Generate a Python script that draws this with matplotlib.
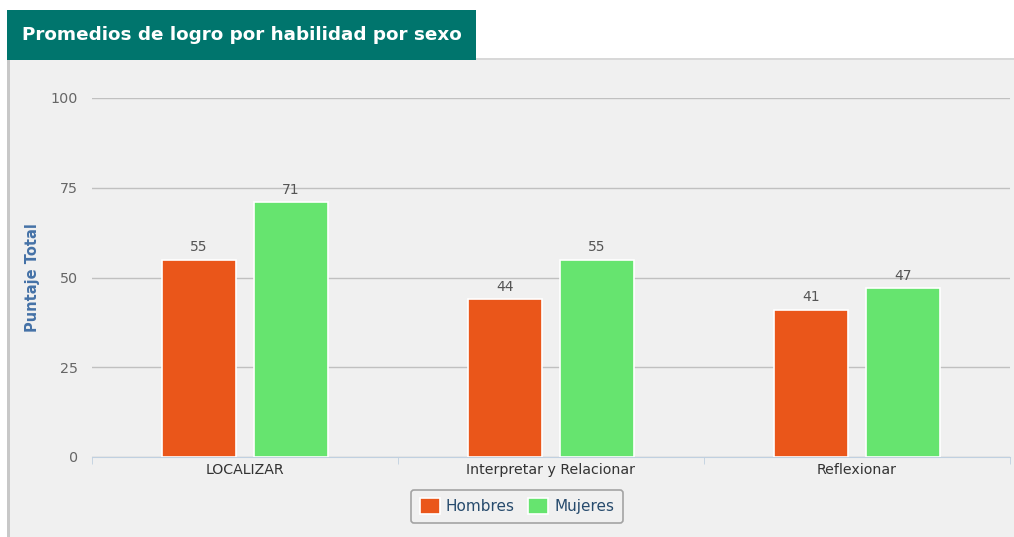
import matplotlib.pyplot as plt
from matplotlib.patches import Rectangle

categorias = ['LOCALIZAR', 'Interpretar y Relacionar', 'Reflexionar']
hombres = [55, 44, 41]
mujeres = [71, 55, 47]
yticks = [0, 25, 50, 75, 100]

fig = plt.figure(figsize=(10.14, 5.37), dpi=100)
W, H = 1014, 537

# panel gris de fondo
fig.patches.append(Rectangle((7 / W, 0), 1 - 7 / W, (537 - 59) / H,
                             transform=fig.transFigure, facecolor='#f0f0f0',
                             edgecolor='none', zorder=-3))
fig.patches.append(Rectangle((7 / W, 0), 2.5 / W, (537 - 59) / H,
                             transform=fig.transFigure, facecolor='#c8c8c8',
                             edgecolor='none', zorder=-2))
fig.patches.append(Rectangle((7 / W, (537 - 60) / H), 1 - 7 / W, 1.5 / H,
                             transform=fig.transFigure, facecolor='#d8d8d8',
                             edgecolor='none', zorder=-2))
# caja del título
fig.patches.append(Rectangle((7 / W, (537 - 60) / H), (476 - 7) / W, 50 / H,
                             transform=fig.transFigure, facecolor='#00756d',
                             edgecolor='none', zorder=-1))
fig.text(22 / W, 1 - 35 / H, 'Promedios de logro por habilidad por sexo',
         color='white', fontsize=13.2, fontweight='bold', va='center',
         family='DejaVu Sans')

ax = fig.add_axes([92 / W, (537 - 457) / H, (1010 - 92) / W, (457 - 98) / H])
ax.set_facecolor('none')
ax.set_zorder(5)

x = list(range(len(categorias)))
w = 0.242
off = 0.150
b1 = ax.bar([i - off for i in x], hombres, w, color='#ea561a',
            edgecolor='white', linewidth=1.2, label='Hombres', zorder=3)
b2 = ax.bar([i + off for i in x], mujeres, w, color='#66e46f',
            edgecolor='white', linewidth=1.2, label='Mujeres', zorder=3)
for bars, vals in ((b1, hombres), (b2, mujeres)):
    for r, v in zip(bars, vals):
        ax.text(r.get_x() + r.get_width() / 2, v + 1.5, str(v),
                ha='center', va='bottom', fontsize=10, color='#555555')

ax.set_xlim(-0.5, 2.5)
ax.set_ylim(0, 100)
ax.set_yticks(yticks)
ax.set_yticklabels([str(t) for t in yticks], fontsize=10.3, color='#666666')
ax.tick_params(axis='y', length=0, pad=10)
ax.set_xticks(x)
ax.set_xticklabels(categorias, fontsize=10.2, color='#333333')
ax.tick_params(axis='x', length=0, pad=4)
ax.set_xticks([-0.5, 0.5, 1.5, 2.5], minor=True)
ax.tick_params(axis='x', which='minor', length=5, color='#c0d0e0')
ax.grid(axis='y', color='#c0c0c0', linewidth=1, zorder=1)
for s in ('top', 'right', 'left'):
    ax.spines[s].set_visible(False)
ax.spines['bottom'].set_color('#c0d0e0')
ax.set_ylabel('Puntaje Total', color='#4572a7', fontsize=10.5,
              fontweight='bold', labelpad=8)

leg = ax.legend(loc='upper center', bbox_to_anchor=(0.463, -0.07), ncol=2,
                frameon=True, fontsize=11, handlelength=1.3, handleheight=1.2,
                handletextpad=0.4, columnspacing=0.9, borderpad=0.55,
                fancybox=True)
leg.get_frame().set_edgecolor('#909090')
leg.get_frame().set_facecolor('#f0f0f0')
leg.get_frame().set_linewidth(1.2)
for t in leg.get_texts():
    t.set_color('#274b6d')

fig.savefig('out.png', dpi=100)
